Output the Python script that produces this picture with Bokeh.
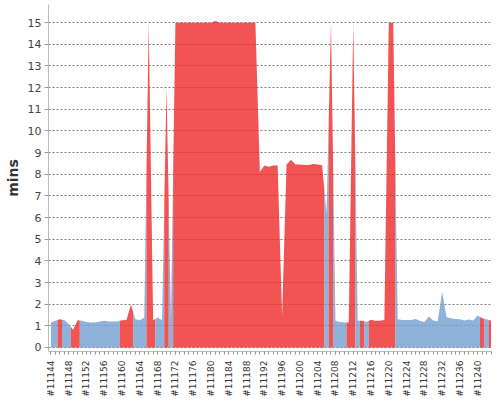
from bokeh.plotting import figure
from bokeh.models import FixedTicker, Range1d, ColumnDataSource
from bokeh.embed import file_html
from bokeh.resources import INLINE

# ---- data ----
builds = list(range(11144, 11244))
durations = [
    1.15, 1.23, 1.30, 1.27, 1.08, 0.82, 1.26, 1.23, 1.18, 1.15,   # 11144-11153
    1.15, 1.20, 1.23, 1.20, 1.20, 1.20, 1.26, 1.27, 1.98, 1.30,   # 11154-11163
    1.26, 1.38, 15.0, 1.26, 1.38, 1.26, 12.0, 1.30, 15.0, 15.0,   # 11164-11173
    15.0, 15.0, 15.0, 15.0, 15.0, 15.0, 15.0, 15.08, 15.0, 15.0,  # 11174-11183
    15.0, 15.0, 15.0, 15.0, 15.0, 15.0, 15.0, 8.10, 8.40, 8.35,   # 11184-11193
    8.40, 8.40, 1.45, 8.45, 8.67, 8.45, 8.45, 8.43, 8.43, 8.47,   # 11194-11203
    8.45, 8.42, 6.20, 15.0, 1.24, 1.18, 1.16, 1.16, 15.0, 1.24,   # 11204-11213
    1.24, 1.18, 1.28, 1.24, 1.24, 1.27, 15.0, 15.0, 1.31, 1.27,   # 11214-11223
    1.27, 1.27, 1.32, 1.24, 1.18, 1.43, 1.25, 1.21, 2.58, 1.40,   # 11224-11233
    1.35, 1.32, 1.31, 1.25, 1.29, 1.25, 1.48, 1.35, 1.30, 1.25,   # 11234-11243
]
# S = success (blue), F = failure (red)
status = list(
    "SSFSSFFSSS"
    "SSSSSSFFFS"
    "SSFFSSFSFF"
    "FFFFFFFFFF"
    "FFFFFFFFFF"
    "FFFFFFFFFF"
    "FFSFSSSFFS"
    "FSFFFFFFSS"
    "SSSSSSSSSS"
    "SSSSSSSFSF"
)
tick_builds = list(range(11144, 11244, 4))
tick_labels = {b: "#%d" % b for b in tick_builds}
y_ticks = list(range(0, 16))

colors = {"S": "#729FCF", "F": "#EF2929"}

# ---- build one polygon per run of equal status ----
xs, ys, fills = [], [], []
n = len(builds)
i = 0
while i < n:
    j = i
    while j + 1 < n and status[j + 1] == status[i]:
        j += 1
    if i == 0:
        xl, hl = builds[0], durations[0]
    else:
        xl = (builds[i - 1] + builds[i]) / 2
        hl = (durations[i - 1] + durations[i]) / 2
    if j == n - 1:
        xr, hr = builds[-1], durations[-1]
    else:
        xr = (builds[j] + builds[j + 1]) / 2
        hr = (durations[j] + durations[j + 1]) / 2
    xs.append([xl, xl] + builds[i:j + 1] + [xr, xr])
    ys.append([0, hl] + durations[i:j + 1] + [hr, 0])
    fills.append(colors[status[i]])
    i = j + 1

src = ColumnDataSource(dict(xs=xs, ys=ys, fill=fills))

p = figure(frame_width=443, frame_height=347,
           x_range=Range1d(11143.46, 11243.1), y_range=Range1d(-0.185, 15.84),
           output_backend="svg", toolbar_location=None,
           min_border_left=48, min_border_right=1, min_border_top=4, min_border_bottom=0)
p.outline_line_color = None
p.background_fill_color = "white"

p.patches("xs", "ys", source=src, fill_color="fill", fill_alpha=0.8, line_color=None)

# grid
p.xgrid.visible = False
p.ygrid.grid_line_color = "#7a7a7a"
p.ygrid.grid_line_dash = "2 2"
p.ygrid.grid_line_width = 1
p.ygrid.ticker = FixedTicker(ticks=y_ticks)

# y axis
ya = p.yaxis[0]
ya.ticker = FixedTicker(ticks=y_ticks)
ya.axis_label = "mins"
ya.axis_label_text_font = "DejaVu Sans"
ya.axis_label_text_font_style = "bold"
ya.axis_label_text_font_size = "14px"
ya.axis_label_text_color = "#333333"
ya.axis_label_standoff = 4
ya.major_label_text_font = "DejaVu Sans"
ya.major_label_text_font_size = "11px"
ya.major_label_text_color = "#444444"
ya.major_label_standoff = 3
ya.axis_line_color = "#bbbbbb"
ya.major_tick_line_color = "#999999"
ya.major_tick_out = 4
ya.major_tick_in = 0
ya.minor_tick_line_color = None

# x axis
xa = p.xaxis[0]
xa.ticker = FixedTicker(ticks=tick_builds, minor_ticks=builds)
xa.major_label_overrides = tick_labels
xa.major_label_orientation = 1.5707963
xa.major_label_text_font = "DejaVu Sans"
xa.major_label_text_font_size = "9px"
xa.major_label_text_color = "#333333"
xa.major_label_standoff = 6
xa.axis_line_color = "#bbbbbb"
xa.major_tick_line_color = "#999999"
xa.minor_tick_line_color = "#999999"
xa.major_tick_out = 3
xa.major_tick_in = 0
xa.minor_tick_out = 3
xa.minor_tick_in = 0

open("out.html", "w").write(file_html(p, INLINE))
